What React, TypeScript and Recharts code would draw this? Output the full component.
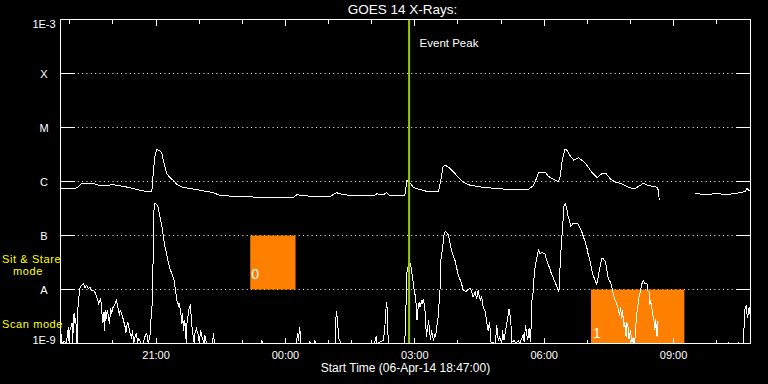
import React from 'react';
import {
  LineChart, Line, XAxis, YAxis, CartesianGrid, ReferenceArea, ReferenceLine,
} from 'recharts';

// minutes after the start time (06-Apr-14 18:47 UT), flux in W/m^2
const startLabel = 'Start Time (06-Apr-14 18:47:00)';

const hourTicks = [13, 73, 133, 193, 253, 313, 373, 433, 493, 553, 613, 673, 733, 793, 853, 913];
const hourLabels = ['19:00', '20:00', '21:00', '22:00', '23:00', '00:00', '01:00', '02:00',
  '03:00', '04:00', '05:00', '06:00', '07:00', '08:00', '09:00', '10:00'];
const labelledHours = ['21:00', '00:00', '03:00', '06:00', '09:00'];

const fluxTicks = [1e-9, 1e-8, 1e-7, 1e-6, 1e-5, 1e-4, 1e-3];
const fluxLabels = ['1E-9', 'A', 'B', 'C', 'M', 'X', '1E-3'];

// 1-8 A channel
const longChannel: [number, number | null][] = [
  [0, 7.4e-7], [13, 7.4e-7], [20, 7.4e-7], [24, 7.8e-7], [29, 9.1e-7], [46, 9.2e-7], [55, 8.4e-7],
  [74, 8.7e-7], [92, 7.9e-7], [106, 7.1e-7], [120, 6.5e-7], [127, 6.4e-7], [129, 1.4e-6],
  [131, 2.8e-6], [134, 3.9e-6], [138, 3.7e-6], [141, 3.4e-6], [143, 2.5e-6], [145, 1.9e-6],
  [148, 1.4e-6], [153, 1.15e-6], [157, 1.05e-6], [162, 8.8e-7], [169, 7.9e-7], [180, 7.4e-7],
  [194, 6.9e-7], [213, 6.2e-7], [222, 5.5e-7], [245, 5.3e-7], [278, 5.1e-7], [324, 5.1e-7],
  [329, 5.7e-7], [338, 5.5e-7], [356, 5.2e-7], [375, 5.3e-7], [384, 6.2e-7], [393, 5.7e-7],
  [417, 5.4e-7], [435, 5.4e-7], [440, 5.9e-7], [449, 5.7e-7], [454, 6.2e-7], [458, 5.5e-7],
  [479, 5.5e-7], [482, 1.04e-6], [486, 9.6e-7], [491, 7.8e-7], [495, 7.4e-7], [509, 6.6e-7],
  [526, 6.6e-7], [529, 1.04e-6], [532, 1.84e-6], [535, 2.0e-6], [540, 1.84e-6], [547, 1.5e-6],
  [553, 1.2e-6], [561, 9.6e-7], [570, 8.5e-7], [588, 7.8e-7], [607, 7.4e-7], [625, 7.1e-7],
  [651, 7.2e-7], [658, 8.4e-7], [663, 1.2e-6], [665, 1.44e-6], [674, 1.5e-6], [679, 1.24e-6],
  [686, 1.09e-6], [693, 1.0e-6], [695, 1.2e-6], [698, 2.45e-6], [702, 4.0e-6], [704, 3.9e-6],
  [709, 3.0e-6], [714, 2.5e-6], [721, 2.75e-6], [725, 2.5e-6], [730, 2.2e-6], [739, 1.5e-6],
  [747, 1.17e-6], [753, 1.4e-6], [759, 1.4e-6], [765, 1.12e-6], [772, 9.7e-7], [781, 9.1e-7],
  [790, 7.8e-7], [799, 7.3e-7], [806, 8.4e-7], [811, 9.3e-7], [818, 8.4e-7], [825, 8.1e-7],
  [830, 7.8e-7], [832, 6.8e-7], [833, 4.5e-7], [850, null], [883, 6.0e-7], [897, 5.7e-7],
  [915, 6.0e-7], [925, 5.7e-7], [935, 5.9e-7], [948, 6.3e-7], [953, 6.6e-7], [955, 7.4e-7],
  [960, 6.5e-7],
];

// 0.5-4 A channel
const shortChannel: [number, number | null][] = [
  [0, 1.0e-9], [1, 1.5e-9], [2, 1.0e-9], [5, 1.1e-9], [8, 1.0e-9], [11, 2.0e-9], [12, 1.0e-9],
  [13, 1.7e-9], [16, 2.4e-9], [17, 1.0e-9], [18, 3.0e-9], [19, 3.6e-9], [20, 2.4e-9], [21, 2.9e-9],
  [22, 2.0e-9], [23, 1.0e-9], [24, 4.1e-9], [26, 8.4e-9], [27, 1.04e-8], [29, 1.19e-8],
  [32, 1.28e-8], [34, 1.09e-8], [36, 1.19e-8], [39, 1.04e-8], [41, 1.09e-8], [43, 9.6e-9],
  [46, 9.6e-9], [48, 8.8e-9], [50, 7.7e-9], [53, 5.5e-9], [55, 6.3e-9], [56, 6.8e-9], [57, 4.6e-9],
  [59, 2.35e-9], [60, 3.8e-9], [61, 1.74e-9], [62, 4.1e-9], [63, 2.67e-9], [65, 4.1e-9],
  [66, 3.6e-9], [68, 2.35e-9], [70, 4.45e-9], [71, 3.6e-9], [73, 4.6e-9], [76, 5.5e-9],
  [78, 6.3e-9], [80, 4.6e-9], [82, 3.3e-9], [83, 4.1e-9], [85, 3.6e-9], [87, 2.9e-9], [90, 2.0e-9],
  [91, 1.6e-9], [93, 2.45e-9], [94, 2.35e-9], [96, 1.74e-9], [97, 1.53e-9], [99, 1.24e-9],
  [100, 1.74e-9], [102, 1.04e-9], [104, 1.41e-9], [106, 1.53e-9], [107, 1.0e-9], [109, 1.24e-9],
  [112, 1.0e-9], [115, 1.0e-9], [118, 1.41e-9], [120, 1.53e-9], [122, 1.0e-9], [125, 1.53e-9],
  [126, 3.0e-9], [128, 6.3e-9], [129, 5.3e-8], [130, 2.9e-7], [131, 3.9e-7], [134, 3.8e-7],
  [136, 3.3e-7], [138, 2.35e-7], [141, 1.53e-7], [143, 1.0e-7], [145, 6.5e-8], [148, 4.3e-8],
  [150, 3.2e-8], [152, 2.45e-8], [155, 1.98e-8], [158, 1.47e-8], [160, 9.6e-9], [162, 6.3e-9],
  [164, 5.1e-9], [165, 5.7e-9], [167, 4.1e-9], [169, 2.35e-9], [170, 3.6e-9], [171, 1.74e-9],
  [173, 2.67e-9], [175, 1.0e-9], [176, 2.35e-9], [178, 3.6e-9], [179, 4.6e-9], [181, 5.1e-9],
  [182, 2.67e-9], [184, 1.53e-9], [186, 1.0e-9], [187, 1.53e-9], [189, 1.9e-9], [192, 1.41e-9],
  [193, 1.0e-9], [195, 1.74e-9], [197, 1.29e-9], [200, 1.0e-9], [201, 1.41e-9], [203, 1.0e-9],
  [211, 1.0e-9], [213, 1.53e-9], [214, 1.0e-9], [279, 1.0e-9], [280, 1.14e-9], [281, 1.0e-9],
  [328, 1.0e-9], [330, 1.53e-9], [331, 1.1e-9], [332, 1.6e-9], [333, 2.0e-9], [334, 1.1e-9],
  [335, 1.0e-9], [346, 1.0e-9], [347, 1.1e-9], [348, 1.0e-9], [353, 1.0e-9], [354, 1.14e-9],
  [355, 1.0e-9], [382, 1.0e-9], [383, 2.67e-9], [384, 4.0e-9], [385, 3.0e-9], [386, 2.0e-9],
  [387, 1.24e-9], [389, 1.1e-9], [390, 1.0e-9], [404, 1.0e-9], [405, 1.1e-9], [406, 1.0e-9],
  [437, 1.0e-9], [438, 1.2e-9], [439, 1.35e-9], [440, 1.0e-9], [449, 1.14e-9], [451, 1.74e-9],
  [453, 4.7e-9], [454, 5.9e-9], [455, 3.0e-9], [456, 1.0e-9], [479, 1.0e-9], [481, 6.7e-9],
  [482, 2.1e-8], [485, 3.1e-8], [487, 3.0e-8], [489, 1.95e-8], [491, 1.28e-8], [492, 9.6e-9],
  [494, 7.3e-9], [495, 4.7e-9], [496, 2.67e-9], [497, 4.1e-9], [499, 5.9e-9], [500, 4.7e-9],
  [503, 6.3e-9], [504, 5.4e-9], [505, 6.7e-9], [507, 4.3e-9], [508, 2.67e-9], [509, 1.32e-9],
  [511, 2.0e-9], [512, 2.67e-9], [514, 1.5e-9], [515, 1.14e-9], [516, 1.74e-9], [518, 1.32e-9],
  [519, 1.14e-9], [521, 1.5e-9], [522, 1.32e-9], [523, 1.9e-9], [525, 2.67e-9], [526, 4.1e-9],
  [528, 9.6e-9], [529, 3.4e-8], [532, 6.5e-8], [534, 1.14e-7], [536, 1.19e-7], [540, 1.0e-7],
  [542, 7.1e-8], [544, 5.3e-8], [549, 3.4e-8], [553, 1.95e-8], [558, 1.28e-8], [560, 1.0e-8],
  [564, 9.0e-9], [567, 1.0e-8], [570, 1.06e-8], [572, 9.0e-9], [574, 7.3e-9], [577, 9.0e-9],
  [579, 6.7e-9], [581, 9.6e-9], [584, 6.3e-9], [586, 7.3e-9], [588, 4.7e-9], [591, 3.9e-9],
  [593, 2.5e-9], [595, 1.74e-9], [597, 2.5e-9], [598, 1.6e-9], [599, 1.05e-9], [605, 1.0e-9],
  [607, 2.15e-9], [609, 1.14e-9], [611, 1.32e-9], [614, 1.0e-9], [615, 1.74e-9], [617, 1.14e-9],
  [621, 2.35e-9], [624, 4.3e-9], [626, 3.0e-9], [627, 2.0e-9], [628, 1.05e-9], [631, 1.14e-9],
  [634, 1.0e-9], [637, 1.14e-9], [639, 1.0e-9], [644, 1.5e-9], [645, 1.05e-9], [647, 2.15e-9],
  [650, 1.14e-9], [652, 1.9e-9], [653, 1.32e-9], [654, 1.05e-9], [656, 6.3e-9], [658, 9.6e-9],
  [659, 1.82e-8], [661, 3.0e-8], [663, 4.0e-8], [665, 5.6e-8], [667, 4.6e-8], [670, 4.9e-8],
  [672, 4.6e-8], [674, 4.6e-8], [676, 3.7e-8], [679, 2.8e-8], [681, 2.4e-8], [683, 1.95e-8],
  [686, 1.6e-8], [688, 1.37e-8], [690, 1.19e-8], [693, 9.4e-9], [694, 1.0e-8], [695, 2.6e-8],
  [697, 7.6e-8], [699, 1.66e-7], [700, 3.4e-7], [702, 3.9e-7], [704, 3.4e-7], [706, 2.35e-7],
  [708, 1.9e-7], [710, 1.47e-7], [713, 1.66e-7], [716, 1.7e-7], [719, 1.7e-7], [721, 1.53e-7],
  [724, 1.3e-7], [727, 1.0e-7], [730, 7.6e-8], [732, 6.2e-8], [734, 4.6e-8], [737, 3.3e-8],
  [739, 2.35e-8], [741, 1.82e-8], [744, 1.47e-8], [746, 1.24e-8], [748, 1.7e-8], [751, 2.8e-8],
  [753, 3.7e-8], [755, 3.7e-8], [758, 3.3e-8], [760, 2.35e-8], [762, 1.6e-8], [765, 1.37e-8],
  [767, 1.12e-8], [769, 8.2e-9], [771, 6.7e-9], [774, 5.4e-9], [776, 4.3e-9], [778, 3.3e-9],
  [779, 4.7e-9], [781, 2.8e-9], [782, 4.1e-9], [784, 2.0e-9], [785, 2.5e-9], [787, 1.32e-9],
  [788, 2.5e-9], [790, 1.9e-9], [791, 1.2e-9], [793, 1.74e-9], [795, 1.05e-9], [797, 1.32e-9],
  [798, 1.0e-9], [800, 1.41e-9], [801, 3.0e-9], [803, 4.7e-9], [805, 7.3e-9], [807, 9.6e-9],
  [809, 1.28e-8], [811, 1.47e-8], [813, 1.3e-8], [816, 1.28e-8], [817, 9.6e-9], [819, 9.0e-9],
  [820, 5.1e-9], [821, 6.3e-9], [823, 4.3e-9], [824, 3.5e-9], [826, 2.5e-9], [827, 1.8e-9],
  [828, 2.8e-9], [830, 1.32e-9], [831, 2.5e-9], [833, 2.35e-9], [850, null], [883, 1.0e-9],
  [928, 1.0e-9], [929, 1.05e-9], [930, 1.0e-9], [942, 1.0e-9], [943, 1.05e-9], [944, 1.0e-9],
  [950, 1.0e-9], [951, 2.0e-9], [952, 4.1e-9], [954, 5.1e-9], [955, 3.6e-9], [956, 3.0e-9],
  [958, 4.7e-9], [960, 3.0e-9],
];

// observing mode windows
const modeWindows = [
  { start: 264, end: 327, lo: 1e-8, hi: 1e-7, label: '0' },
  { start: 738, end: 868, lo: 1e-9, hi: 1e-8, label: '1' },
];

const eventPeak = 485;

const toRows = (pairs: [number, number | null][]) => pairs.map(([t, flux]) => ({ t, flux }));
const longRows = toRows(longChannel);
const shortRows = toRows(shortChannel);

const FONT = '"Liberation Sans", Arial, sans-serif';

function HourTick({ x, y, payload, side }: any) {
  const label = hourLabels[hourTicks.indexOf(payload.value)];
  const major = labelledHours.includes(label);
  const len = major ? 6 : 4;
  const dir = side === 'top' ? 1 : -1;
  const px = Math.round(x - 0.5) + 0.5;
  return (
    <g>
      <line x1={px} x2={px} y1={y} y2={y + dir * len} stroke="#fff" shapeRendering="crispEdges" />
      {side === 'bottom' && major && (
        <text x={x} y={y + 15} textAnchor="middle" fill="#fff" fontSize={11} fontFamily={FONT}>
          {label}
        </text>
      )}
    </g>
  );
}

function FluxTick({ x, y, payload, side }: any) {
  const i = fluxTicks.findIndex((v) => Math.abs(Math.log10(v) - Math.log10(payload.value)) < 0.01);
  const dir = side === 'left' ? 1 : -1;
  let base = y + 4;
  if (i === fluxTicks.length - 1) base = y + 8;
  if (i === 0) base = y;
  return (
    <g>
      <line x1={x} x2={x + dir * 14} y1={y} y2={y} stroke="#fff" shapeRendering="crispEdges" />
      {side === 'left' && (
        <text x={x - 16.5} y={base} textAnchor="middle" fill="#fff" fontSize={11} fontFamily={FONT}>
          {fluxLabels[i]}
        </text>
      )}
    </g>
  );
}

function ModeLabel({ viewBox, value, dx, dy }: any) {
  if (!viewBox) return null;
  return (
    <text x={viewBox.x + dx} y={viewBox.y + viewBox.height + dy} fill="#fff" fontSize={14} fontFamily={FONT}>
      {value}
    </text>
  );
}

function PeakLabel({ viewBox }: any) {
  if (!viewBox) return null;
  return (
    <text x={viewBox.x + 10.5} y={viewBox.y + 27.5} fill="#fff" fontSize={11.5} fontFamily={FONT}>
      Event Peak
    </text>
  );
}

const modeShift = [{ dx: 1, dy: -11 }, { dx: 2, dy: -5.5 }];

const sideText: React.CSSProperties = {
  position: 'absolute', color: '#ffff00', fontSize: 11, lineHeight: '11px', letterSpacing: 0.6,
  whiteSpace: 'pre', fontFamily: FONT,
};

export default function App() {
  return (
    <div style={{ position: 'absolute', left: 0, top: 0, width: 768, height: 384, background: '#000', fontFamily: FONT }}>
      <LineChart width={768} height={384} margin={{ top: 0.5, right: 0.5, bottom: 0.5, left: 0.5 }}>
        <CartesianGrid horizontal vertical={false} stroke="#fff" strokeDasharray="1 3.33" />
        {modeWindows.map((m, i) => (
          <ReferenceArea
            key={m.label}
            x1={m.start}
            x2={m.end}
            y1={m.lo}
            y2={m.hi}
            fill="#ff8000"
            fillOpacity={1}
            stroke="none"
            label={<ModeLabel value={m.label} dx={modeShift[i].dx} dy={modeShift[i].dy} />}
          />
        ))}
        <Line data={longRows} dataKey="flux" type="linear" stroke="#fff" strokeWidth={1} dot={false}
          isAnimationActive={false} connectNulls={false} shapeRendering="crispEdges" />
        <Line data={shortRows} dataKey="flux" type="linear" stroke="#fff" strokeWidth={1} dot={false}
          isAnimationActive={false} connectNulls={false} shapeRendering="crispEdges" />
        <ReferenceLine x={eventPeak} stroke="#99cc00" strokeWidth={2} label={<PeakLabel />} />
        <XAxis
          dataKey="t"
          type="number"
          domain={[0, 960]}
          allowDataOverflow
          ticks={hourTicks}
          interval={0}
          height={40}
          tickSize={0}
          tickMargin={0}
          tickLine={false}
          axisLine={{ stroke: '#fff' }}
          tick={(p: any) => <HourTick {...p} side="bottom" />}
          label={{ value: startLabel, position: 'insideBottom', offset: 11.5, fill: '#fff', fontSize: 12 }}
        />
        <XAxis
          xAxisId="top"
          orientation="top"
          dataKey="t"
          type="number"
          domain={[0, 960]}
          allowDataOverflow
          ticks={hourTicks}
          interval={0}
          height={19}
          tickSize={0}
          tickMargin={0}
          tickLine={false}
          axisLine={{ stroke: '#fff' }}
          tick={(p: any) => <HourTick {...p} side="top" />}
          label={{ value: 'GOES 14 X-Rays:', position: 'insideTop', offset: 4, fill: '#fff', fontSize: 13.5, dx: -3 }}
        />
        <YAxis
          type="number"
          scale="log"
          domain={[1e-9, 1e-3]}
          allowDataOverflow
          ticks={fluxTicks}
          interval={0}
          width={60}
          tickSize={0}
          tickMargin={0}
          tickLine={false}
          axisLine={{ stroke: '#fff' }}
          tick={(p: any) => <FluxTick {...p} side="left" />}
        />
        <YAxis
          yAxisId="right"
          orientation="right"
          type="number"
          scale="log"
          domain={[1e-9, 1e-3]}
          allowDataOverflow
          ticks={fluxTicks}
          interval={0}
          width={17}
          tickSize={0}
          tickMargin={0}
          tickLine={false}
          axisLine={{ stroke: '#fff' }}
          tick={(p: any) => <FluxTick {...p} side="right" />}
        />
      </LineChart>
      <div style={{ ...sideText, left: 2, top: 254 }}>Sit &amp; Stare</div>
      <div style={{ ...sideText, left: 13, top: 266 }}>mode</div>
      <div style={{ ...sideText, left: 2, top: 319 }}>Scan mode</div>
    </div>
  );
}
